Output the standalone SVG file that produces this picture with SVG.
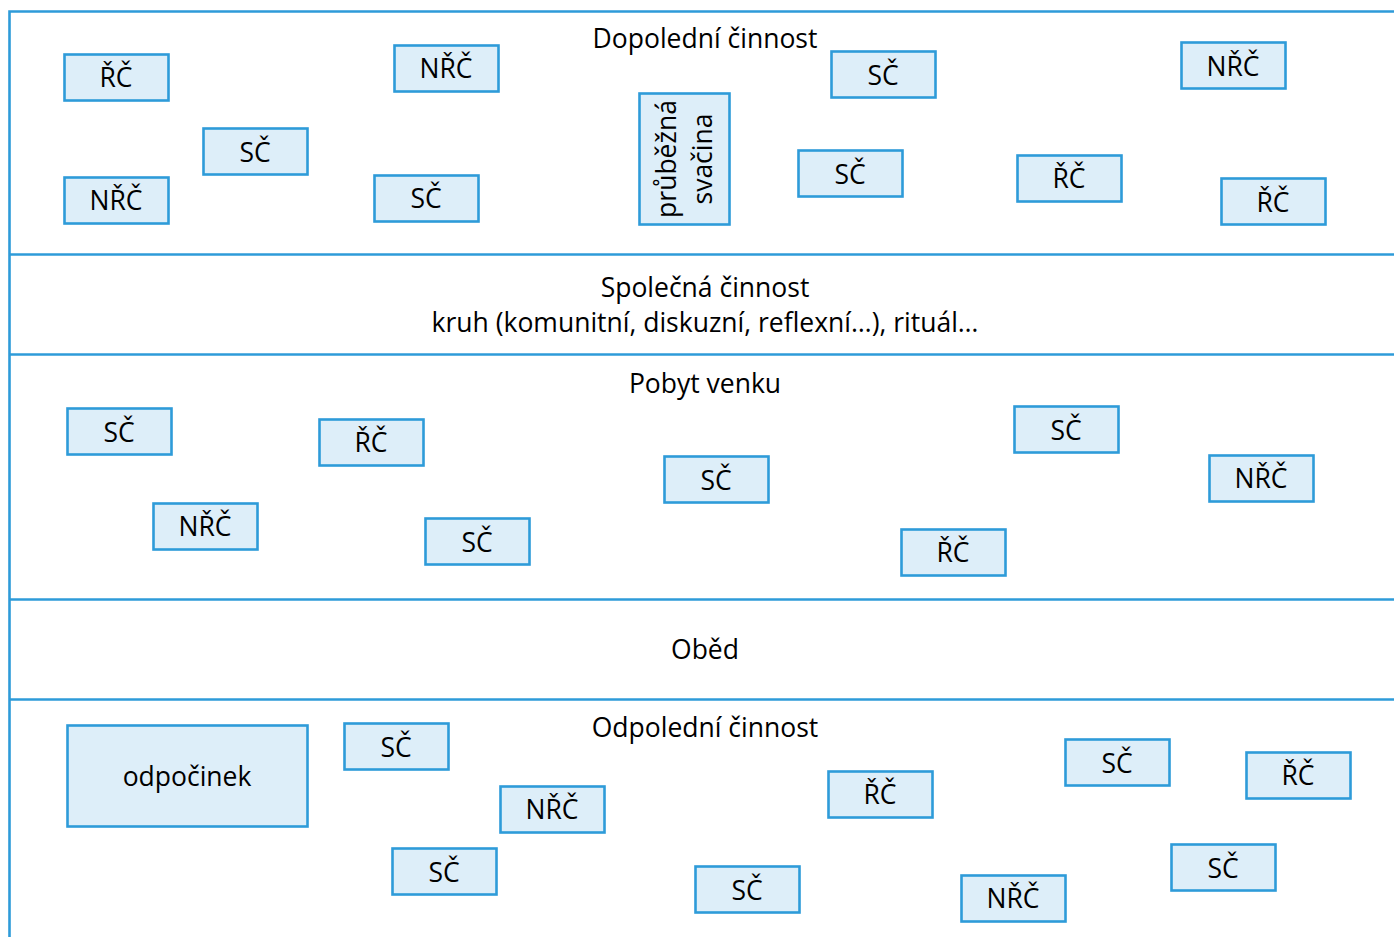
<svg xmlns="http://www.w3.org/2000/svg" width="1394" height="937" viewBox="0 0 1394 937">
  <style>
    .frame { stroke: #2e9bd9; stroke-width: 2.6; fill: none; }
    .box { fill: #ddeef9; stroke: #2e9bd9; stroke-width: 2.6; }
    text { font-family: "Open Sans", "Noto Sans", sans-serif; font-size: 26.5px; fill: #000; text-anchor: middle; }
  </style>
  <rect width="1394" height="937" fill="#ffffff"/>

  <!-- section frame -->
  <g id="frame" class="frame">
    <path d="M1394 11.5 H9.5 V937"/>
    <path d="M9.5 254.5 H1394"/>
    <path d="M9.5 354.5 H1394"/>
    <path d="M9.5 599.5 H1394"/>
    <path d="M9.5 699.5 H1394"/>
  </g>

  <!-- section titles -->
  <g id="titles">
    <text x="705" y="48">Dopolední činnost</text>
    <text x="705" y="297">Společná činnost</text>
    <text x="705" y="332">kruh (komunitní, diskuzní, reflexní…), rituál…</text>
    <text x="705" y="393">Pobyt venku</text>
    <text x="705" y="659">Oběd</text>
    <text x="705" y="737">Odpolední činnost</text>
  </g>

  <!-- morning -->
  <g id="m1"><rect class="box" x="64.5" y="54.5" width="104" height="46"/><text x="116" y="87">ŘČ</text></g>
  <g id="m2"><rect class="box" x="64.5" y="177.5" width="104" height="46"/><text x="116" y="210">NŘČ</text></g>
  <g id="m3"><rect class="box" x="203.5" y="128.5" width="104" height="46"/><text x="255" y="162">SČ</text></g>
  <g id="m4"><rect class="box" x="394.5" y="45.5" width="104" height="46"/><text x="446" y="78">NŘČ</text></g>
  <g id="m5"><rect class="box" x="374.5" y="175.5" width="104" height="46"/><text x="426" y="208">SČ</text></g>
  <g id="m6"><rect class="box" x="639.5" y="93.5" width="90" height="131"/>
    <text transform="translate(684,159) rotate(-90)"><tspan x="0" y="-8">průběžná</tspan><tspan x="0" y="28">svačina</tspan></text></g>
  <g id="m7"><rect class="box" x="831.5" y="51.5" width="104" height="46"/><text x="883" y="85">SČ</text></g>
  <g id="m8"><rect class="box" x="798.5" y="150.5" width="104" height="46"/><text x="850" y="184">SČ</text></g>
  <g id="m9"><rect class="box" x="1017.5" y="155.5" width="104" height="46"/><text x="1069" y="188">ŘČ</text></g>
  <g id="m10"><rect class="box" x="1181.5" y="42.5" width="104" height="46"/><text x="1233" y="76">NŘČ</text></g>
  <g id="m11"><rect class="box" x="1221.5" y="178.5" width="104" height="46"/><text x="1273" y="212">ŘČ</text></g>

  <!-- outdoors -->
  <g id="o1"><rect class="box" x="67.5" y="408.5" width="104" height="46"/><text x="119" y="442">SČ</text></g>
  <g id="o2"><rect class="box" x="319.5" y="419.5" width="104" height="46"/><text x="371" y="452">ŘČ</text></g>
  <g id="o3"><rect class="box" x="153.5" y="503.5" width="104" height="46"/><text x="205" y="536">NŘČ</text></g>
  <g id="o4"><rect class="box" x="425.5" y="518.5" width="104" height="46"/><text x="477" y="552">SČ</text></g>
  <g id="o5"><rect class="box" x="664.5" y="456.5" width="104" height="46"/><text x="716" y="490">SČ</text></g>
  <g id="o6"><rect class="box" x="1014.5" y="406.5" width="104" height="46"/><text x="1066" y="440">SČ</text></g>
  <g id="o7"><rect class="box" x="901.5" y="529.5" width="104" height="46"/><text x="953" y="562">ŘČ</text></g>
  <g id="o8"><rect class="box" x="1209.5" y="455.5" width="104" height="46"/><text x="1261" y="488">NŘČ</text></g>

  <!-- afternoon -->
  <g id="a1"><rect class="box" x="67.5" y="725.5" width="240" height="101"/><text x="187" y="786">odpočinek</text></g>
  <g id="a2"><rect class="box" x="344.5" y="723.5" width="104" height="46"/><text x="396" y="757">SČ</text></g>
  <g id="a3"><rect class="box" x="500.5" y="786.5" width="104" height="46"/><text x="552" y="819">NŘČ</text></g>
  <g id="a4"><rect class="box" x="392.5" y="848.5" width="104" height="46"/><text x="444" y="882">SČ</text></g>
  <g id="a5"><rect class="box" x="828.5" y="771.5" width="104" height="46"/><text x="880" y="804">ŘČ</text></g>
  <g id="a6"><rect class="box" x="695.5" y="866.5" width="104" height="46"/><text x="747" y="900">SČ</text></g>
  <g id="a7"><rect class="box" x="1065.5" y="739.5" width="104" height="46"/><text x="1117" y="773">SČ</text></g>
  <g id="a8"><rect class="box" x="1246.5" y="752.5" width="104" height="46"/><text x="1298" y="785">ŘČ</text></g>
  <g id="a9"><rect class="box" x="1171.5" y="844.5" width="104" height="46"/><text x="1223" y="878">SČ</text></g>
  <g id="a10"><rect class="box" x="961.5" y="875.5" width="104" height="46"/><text x="1013" y="908">NŘČ</text></g>
</svg>
